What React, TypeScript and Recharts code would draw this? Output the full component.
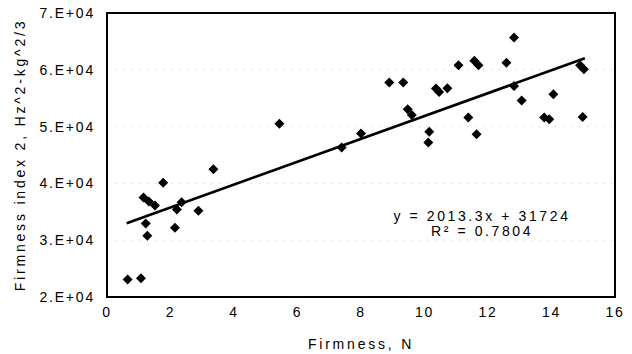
import { ScatterChart, Scatter, XAxis, YAxis, CartesianGrid, ReferenceArea } from 'recharts';

const firmness = [
  0.65, 1.07, 1.22, 1.27, 1.15, 1.32, 1.51, 1.77, 2.14, 2.2, 2.35, 2.88, 3.35, 5.43, 7.39, 8.0,
  8.89, 9.33, 9.47, 9.6, 10.36, 10.46, 10.72, 10.12, 10.15, 11.07, 11.57, 11.7, 11.38, 11.64,
  12.58, 12.82, 12.82, 13.06, 13.77, 13.93, 14.06, 14.9, 15.02, 14.98,
];
const index2 = [
  23100, 23300, 32950, 30800, 37500, 36800, 36100, 40100, 32200, 35400, 36700, 35200, 42500, 50500, 46300, 48800,
  57750, 57750, 53050, 52050, 56700, 56100, 56750, 47200, 49100, 60800, 61600, 60800, 51600, 48650,
  61250, 65700, 57150, 54600, 51600, 51300, 55700, 60800, 60100, 51700,
];

// fitted line y = 2013.3x + 31724, ends
const trendX = [0.62, 15.05];
const trendY = [32972, 62025];

const xTicks = [0, 2, 4, 6, 8, 10, 12, 14, 16];
const yTicks = [20000, 30000, 40000, 50000, 60000, 70000];

const points = firmness.map((x, i) => ({ x, y: index2[i] }));
const trend = trendX.map((x, i) => ({ x, y: trendY[i] }));

const font = '"Liberation Sans", Arial, sans-serif';
const tickStyle = { fill: '#000', fontSize: 14, fontFamily: font, letterSpacing: 1.8 };
const titleStyle = { fill: '#000', fontSize: 14, fontFamily: font, letterSpacing: 2.8 };

const Diamond = (props: any) => {
  const { cx, cy } = props;
  const r = 5;
  return <polygon points={`${cx},${cy - r} ${cx + r},${cy} ${cx},${cy + r} ${cx - r},${cy}`} fill="#000" />;
};

export default function App() {
  return (
    <div style={{ position: 'absolute', left: 0, top: 0, width: 632, height: 354, background: '#fff' }}>
      <ScatterChart width={632} height={354} margin={{ top: 13, right: 17, bottom: 0, left: 0 }}>
        <CartesianGrid vertical={false} stroke="#c8c8c8" strokeDasharray="1 7" />
        <XAxis
          type="number"
          dataKey="x"
          domain={[0, 16]}
          ticks={xTicks}
          height={57}
          tickLine={false}
          tickSize={0}
          tickMargin={10}
          axisLine={{ stroke: '#000', strokeWidth: 2 }}
          tick={tickStyle}
          label={{ value: 'Firmness, N', position: 'insideBottom', offset: 5, style: titleStyle }}
        />
        <YAxis
          type="number"
          dataKey="y"
          domain={[20000, 70000]}
          ticks={yTicks}
          width={107}
          tickLine={false}
          tickSize={0}
          tickMargin={12}
          axisLine={{ stroke: '#000', strokeWidth: 2 }}
          tick={tickStyle}
          tickFormatter={(v: number) => `${v / 10000}.E+04`}
          label={{
            value: 'Firmness index 2, Hz^2-kg^2/3',
            angle: -90,
            position: 'center',
            dx: -33,
            style: titleStyle,
          }}
        />
        <ReferenceArea x1={0} x2={16} y1={20000} y2={70000} fill="none" stroke="#000" strokeWidth={2} />
        <Scatter data={points} shape={Diamond} isAnimationActive={false} />
        <Scatter
          data={trend}
          line={{ stroke: '#000', strokeWidth: 2.6 }}
          shape={() => <g />}
          isAnimationActive={false}
        />
      </ScatterChart>
      <div
        style={{
          position: 'absolute',
          left: 382,
          top: 209,
          width: 200,
          textAlign: 'center',
          fontFamily: font,
          fontSize: 14,
          letterSpacing: 2.6,
          lineHeight: '15px',
          color: '#000',
        }}
      >
        <div>y = 2013.3x + 31724</div>
        <div>R² = 0.7804</div>
      </div>
    </div>
  );
}
